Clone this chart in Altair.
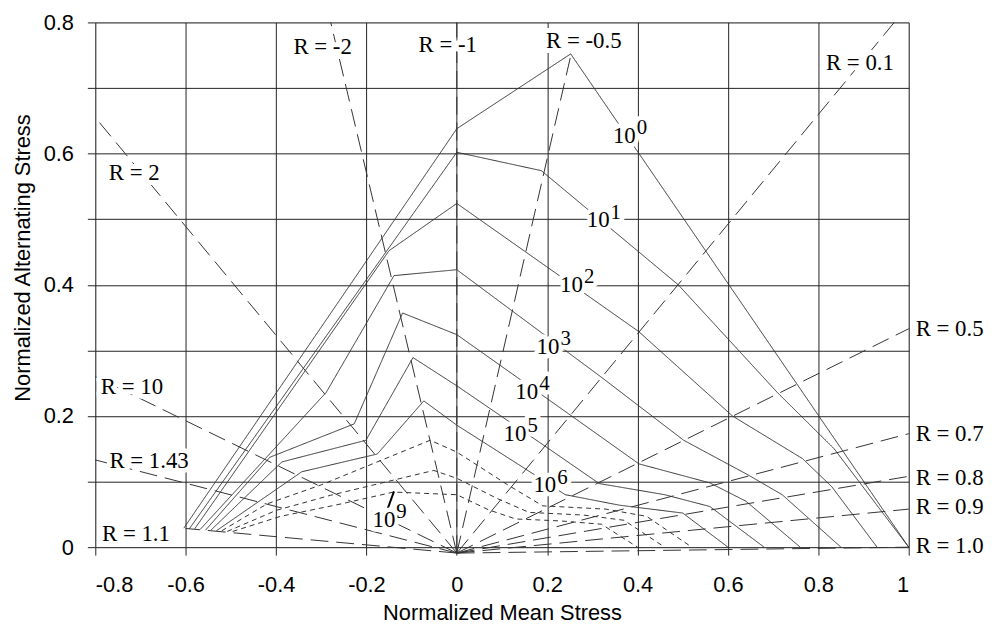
import altair as alt
import pandas as pd

# ---------------- data ----------------
# constant-life curves (normalized mean stress x, normalized alternating stress y)
curve_names = ["1e0", "1e1", "1e2", "1e3", "1e4", "1e5", "1e6", "1e7", "1e8", "1e9"]
curve_style = ["solid"] * 7 + ["dotted"] * 3
curve_x = [
    [-0.604, 0.0, 0.252, 1.0],
    [-0.592, 0.0, 0.187, 0.49, 0.709, 0.835, 1.0],
    [-0.580, -0.15, 0.0, 0.402, 0.61, 0.765, 0.83, 0.93],
    [-0.568, -0.289, -0.139, 0.0, 0.322, 0.502, 0.645, 0.72, 0.85],
    [-0.556, -0.414, -0.227, -0.12, 0.0, 0.248, 0.403, 0.56, 0.64, 0.76],
    [-0.544, -0.387, -0.201, -0.097, 0.0, 0.191, 0.315, 0.46, 0.56, 0.68],
    [-0.532, -0.343, -0.176, -0.073, 0.0, 0.148, 0.24, 0.36, 0.50, 0.60],
    [-0.520, -0.42, -0.30, -0.059, 0.0, 0.115, 0.19, 0.33, 0.42, 0.52],
    [-0.508, -0.40, -0.28, -0.051, 0.0, 0.09, 0.16, 0.28, 0.37, 0.46],
    [-0.496, -0.39, -0.256, -0.14, 0.0, 0.07, 0.13, 0.23, 0.32, 0.40],
]
curve_y = [
    [0.029, 0.638, 0.752, 0.0],
    [0.028, 0.602, 0.574, 0.40, 0.236, 0.15, 0.0],
    [0.028, 0.452, 0.524, 0.329, 0.20, 0.135, 0.092, 0.0],
    [0.027, 0.236, 0.414, 0.423, 0.258, 0.163, 0.11, 0.08, 0.0],
    [0.026, 0.137, 0.188, 0.357, 0.324, 0.203, 0.127, 0.098, 0.07, 0.0],
    [0.026, 0.13, 0.163, 0.289, 0.246, 0.156, 0.097, 0.08, 0.062, 0.0],
    [0.025, 0.115, 0.142, 0.223, 0.186, 0.121, 0.08, 0.064, 0.052, 0.0],
    [0.025, 0.066, 0.095, 0.163, 0.145, 0.094, 0.063, 0.058, 0.047, 0.0],
    [0.024, 0.056, 0.079, 0.117, 0.105, 0.074, 0.053, 0.049, 0.041, 0.0],
    [0.024, 0.047, 0.066, 0.084, 0.08, 0.057, 0.043, 0.040, 0.035, 0.0],
]

# R-ratio lines: from common origin to outer end
r_names = ["1.1", "1.43", "10", "2", "-2", "-1", "-0.5", "0.1", "0.5", "0.7", "0.8", "0.9", "1.0"]
r_origin = (0.0, -0.009)
r_end_x = [-0.60, -0.8, -0.8, -0.8, -0.279, 0.0, 0.253, 0.968, 1.0, 1.0, 1.0, 1.0, 1.0]
r_end_y = [0.0285, 0.133, 0.26, 0.655, 0.8, 0.8, 0.752, 0.8, 0.333, 0.173, 0.108, 0.058, 0.0]

# R labels
rl_text = ["R = -2", "R = -1", "R = -0.5", "R = 0.1", "R = 2", "R = 10", "R = 1.43", "R = 1.1",
           "R = 0.5", "R = 0.7", "R = 0.8", "R = 0.9", "R = 1.0"]
rl_x = [-0.297, -0.02, 0.281, 0.892, -0.714, -0.719, -0.681, -0.71, 1.0, 1.0, 1.0, 1.0, 1.0]
rl_y = [0.762, 0.766, 0.772, 0.738, 0.571, 0.244, 0.132, 0.02, 0.332, 0.173, 0.105, 0.061, 0.002]

# cycle labels 10^n
cl_exp = ["0", "1", "2", "3", "4", "5", "6", "9"]
cl_x = [0.396, 0.338, 0.279, 0.227, 0.18, 0.154, 0.22, -0.136]
cl_y = [0.627, 0.498, 0.40, 0.305, 0.236, 0.173, 0.094, 0.042]

# leader for 10^9
lead_x = [-0.139, -0.158]
lead_y = [0.085, 0.049]

x_ticks = [-0.8, -0.6, -0.4, -0.2, 0.0, 0.2, 0.4, 0.6, 0.8, 1.0]
y_ticks = [0.0, 0.1, 0.2, 0.3, 0.4, 0.5, 0.6, 0.7, 0.8]

# ---------------- frames ----------------
rows = []
for name, sty, xs_, ys_ in zip(curve_names, curve_style, curve_x, curve_y):
    for i, (a, b) in enumerate(zip(xs_, ys_)):
        rows.append({"curve": name, "style": sty, "i": i, "x": a, "y": b})
curves = pd.DataFrame(rows)

rrows = []
for n, ex, ey in zip(r_names, r_end_x, r_end_y):
    rrows.append({"r": n, "i": 0, "x": r_origin[0], "y": r_origin[1]})
    rrows.append({"r": n, "i": 1, "x": ex, "y": ey})
rlines = pd.DataFrame(rrows)

rlab = pd.DataFrame({"t": rl_text, "x": rl_x, "y": rl_y,
                     "al": ["center"] * 8 + ["left"] * 5})
clab = pd.DataFrame({"e": cl_exp, "x": cl_x, "y": cl_y})
lead = pd.DataFrame({"x": lead_x, "y": lead_y})

xs = alt.Scale(domain=[-0.8, 1.0], nice=False, zero=False)
ys = alt.Scale(domain=[0.0, 0.8], nice=False, zero=False)
SANS = "Liberation Sans"
SERIF = "Liberation Serif"

X = alt.X("x:Q", scale=xs, axis=alt.Axis(
    values=x_ticks, title="Normalized Mean Stress", grid=True,
    labelExpr="replace(format(datum.value, '.1~f'), '\u2212', '-')",
    labelFont=SANS, labelFontSize=22, labelColor="black", labelPadding=20,
    titleFont=SANS, titleFontSize=22, titleFontWeight="normal", titleColor="black",
    titlePadding=7, tickSize=8, tickColor="#222", domain=False,
    gridColor="#222", gridOpacity=1, gridWidth=1))
Y = alt.Y("y:Q", scale=ys, axis=alt.Axis(
    values=y_ticks, title="Normalized Alternating Stress", grid=True,
    labelExpr="(abs(round(datum.value*10)) % 2 == 0) ? format(datum.value, '.1~f') : ''",
    labelFont=SANS, labelFontSize=22, labelColor="black", labelPadding=14,
    titleFont=SANS, titleFontSize=22, titleFontWeight="normal", titleColor="black",
    titleX=-66, titleY=237, titleBaseline="alphabetic", titleAngle=270,
    tickSize=8, tickColor="#222", domain=False,
    gridColor="#222", gridOpacity=1, gridWidth=1))

base_curves = alt.Chart(curves).mark_line(color="#333", strokeWidth=1).encode(
    x=X, y=Y, detail="curve:N", order="i:Q",
    strokeDash=alt.StrokeDash("style:N", scale=alt.Scale(
        domain=["solid", "dotted"], range=[[1, 0], [5, 4]]), legend=None))

r_layer = alt.Chart(rlines).mark_line(color="#333", strokeWidth=1, strokeDash=[18, 8]).encode(
    x="x:Q", y="y:Q", detail="r:N", order="i:Q")

lead_layer = alt.Chart(lead).mark_line(color="black", strokeWidth=2).encode(x="x:Q", y="y:Q")

def txt(df, field, font, size, align, halo, dx=0, dy=0, hw=12):
    kw = dict(font=font, fontSize=size, align=align, baseline="middle", dx=dx, dy=dy)
    if halo:
        kw.update(stroke="white", strokeWidth=hw, fill="white", strokeJoin="round")
    else:
        kw.update(fill="black")
    return alt.Chart(df).mark_text(**kw).encode(x="x:Q", y="y:Q", text=f"{field}:N")

rl_c = rlab[rlab.al == "center"]
rl_l = rlab[rlab.al == "left"]
clab10 = clab.assign(ten="10")

layers = [base_curves, r_layer, lead_layer]
for halo in (True, False):
    layers.append(txt(rl_c, "t", SERIF, 23, "center", halo, hw=10))
    layers.append(txt(rl_l, "t", SERIF, 23, "left", halo, dx=7, hw=10))
    layers.append(txt(clab10, "ten", SERIF, 23, "right", halo, hw=9))
    layers.append(txt(clab10, "e", SERIF, 21, "left", halo, dx=1, dy=-8, hw=9))

chart = alt.layer(*layers).properties(
    width=820, height=529,
    padding={"left": 88, "top": 12, "right": 89, "bottom": 86},
    autosize=alt.AutoSizeParams(type="none"),
).configure_view(stroke="#222", strokeWidth=1).configure(background="white")

chart.save("out.html", embed_options={"renderer": "svg", "actions": False})
